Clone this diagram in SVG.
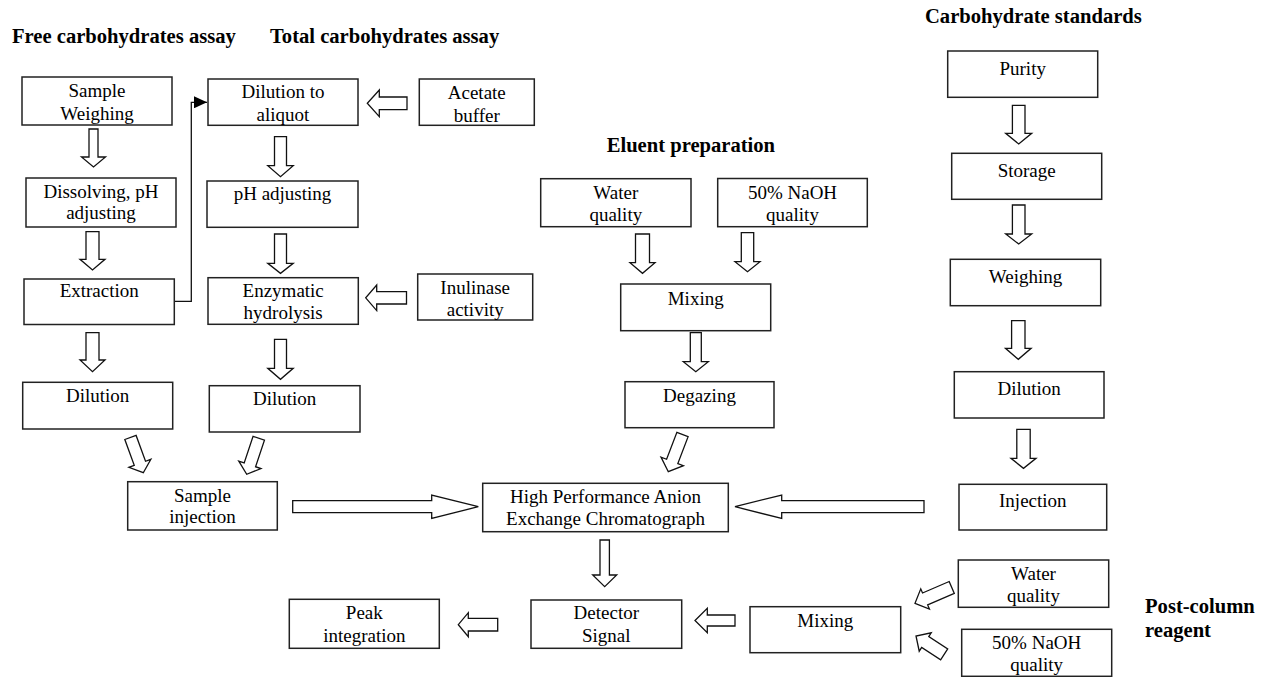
<svg xmlns="http://www.w3.org/2000/svg" width="1265" height="677" viewBox="0 0 1265 677">
<defs>
<style>
.box{fill:#fff;stroke:#222;stroke-width:1.5}
.t{font-family:"Liberation Serif","Times New Roman",serif;font-size:19px;fill:#000;text-anchor:middle}
.h{font-family:"Liberation Serif","Times New Roman",serif;font-size:20.6px;font-weight:bold;fill:#000}
.ar{fill:#fff;stroke:#111;stroke-width:1.3;stroke-linejoin:miter}
.ln{fill:none;stroke:#111;stroke-width:1.3}
</style>
<marker id="tri" markerWidth="14" markerHeight="12" refX="13" refY="6" orient="auto" markerUnits="userSpaceOnUse">
<path d="M0,0 L13,6 L0,12 Z" fill="#000"/>
</marker>
</defs>
<rect width="1265" height="677" fill="#fff"/>

<g id="titles">
<text class="h" x="12" y="42.7">Free carbohydrates assay</text>
<text class="h" x="270" y="43">Total carbohydrates assay</text>
<text class="h" x="606.7" y="151.7">Eluent preparation</text>
<text class="h" x="925" y="23.3">Carbohydrate standards</text>
<text class="h" x="1145" y="613">Post-column</text>
<text class="h" x="1145" y="637">reagent</text>
</g>

<g id="connectors">
<polyline class="ln" points="174.3,301.3 191.3,301.3 191.3,102.3 207,102.3" marker-end="url(#tri)"/>
<path class="ar" d="M89,129 H98 V157 H105.5 L93.5,167 L81.5,157 H89 Z"/>
<path class="ar" d="M86,231.7 H99 V259.3 H105 L92.5,270 L80,259.3 H86 Z"/>
<path class="ar" d="M86,332.7 H99 V360 H105 L92.5,371.7 L80,360 H86 Z"/>
<path class="ar" d="M274.5,136.7 H286.5 V165.7 H293.2 L280.5,176.7 L267.8,165.7 H274.5 Z"/>
<path class="ar" d="M274.5,234 H286.5 V263.3 H293.2 L280.5,273.3 L267.8,263.3 H274.5 Z"/>
<path class="ar" d="M274.5,339.3 H286.5 V368.3 H293.2 L280.5,379.3 L267.8,368.3 H274.5 Z"/>
<path class="ar" d="M635.5,234 H649.5 V262.7 H655 L642.5,273.3 L630,262.7 H635.5 Z"/>
<path class="ar" d="M741.3,232.7 H753.7 V261.7 H760 L747.5,271.7 L735,261.7 H741.3 Z"/>
<path class="ar" d="M690.3,332.7 H701.3 V361.7 H708.3 L695.8,371.7 L683.3,361.7 H690.3 Z"/>
<path class="ar" d="M1012.4,105.3 H1025 V133.3 H1031.7 L1018.7,144 L1005.7,133.3 H1012.4 Z"/>
<path class="ar" d="M1012.4,205 H1025 V234 H1031.7 L1018.7,244 L1005.7,234 H1012.4 Z"/>
<path class="ar" d="M1011.6,320.7 H1025 V348.3 H1031.1 L1018.3,359.3 L1005.5,348.3 H1011.6 Z"/>
<path class="ar" d="M1016.8,429.3 H1030.2 V458.3 H1036 L1023.5,468.3 L1011,458.3 H1016.8 Z"/>
<path class="ar" d="M600,540 H609.4 V575 H616.7 L604.7,586.7 L592.7,575 H600 Z"/>
<path class="ar" d="M407,97 V109.6 H379.3 V116.6 L367.3,103.3 L379.3,90 V97 Z"/>
<path class="ar" d="M406.5,291.6 V304 H376.7 V310.6 L365.7,297.8 L376.7,285 V291.6 Z"/>
<path class="ar" d="M292.7,500.7 H431.7 V495 L478.3,506.7 L431.7,518.4 V512.7 H292.7 Z"/>
<path class="ar" d="M924,500.7 V512.7 H781.7 V518.4 L735,506.7 L781.7,495 V500.7 Z"/>
<path class="ar" d="M735,615 V626 H707.3 V632.7 L695,620.5 L707.3,608.3 V615 Z"/>
<path class="ar" d="M497.7,618.4 V631 H468.3 V636.7 L458.3,624.7 L468.3,612.7 V618.4 Z"/>
<path class="ar" transform="translate(143.3,472.7) rotate(-20)" d="M-6,-37.5 H6 V-10 H11.7 L0,0 L-11.7,-10 H-6 Z"/>
<path class="ar" transform="translate(246.7,474.3) rotate(18.5)" d="M-6,-38 H6 V-10 H11.7 L0,0 L-11.7,-10 H-6 Z"/>
<path class="ar" transform="translate(668.3,471.7) rotate(20.9)" d="M-6,-39.8 H6 V-11 H12 L0,0 L-12,-11 H-6 Z"/>
<path class="ar" transform="translate(915,603.3) rotate(66.7)" d="M-6.5,-40 H6.5 V-11 H11 L0,0 L-11,-11 H-6.5 Z"/>
<path class="ar" transform="translate(916,636) rotate(123)" d="M-6.5,-33.6 H6.5 V-11 H11 L0,0 L-11,-11 H-6.5 Z"/>
</g>

<g id="n_sample_weighing"><rect class="box" x="22" y="77" width="150" height="48"/><text class="t" x="97" y="97">Sample</text><text class="t" x="97" y="120">Weighing</text></g>
<g id="n_dissolving"><rect class="box" x="26" y="178" width="150" height="49"/><text class="t" x="101" y="197.7">Dissolving, pH</text><text class="t" x="101" y="219">adjusting</text></g>
<g id="n_extraction"><rect class="box" x="24" y="279" width="150.3" height="45.5"/><text class="t" x="99.2" y="297.3">Extraction</text></g>
<g id="n_dilution_free"><rect class="box" x="22.7" y="382.3" width="150" height="46.7"/><text class="t" x="97.7" y="402.3">Dilution</text></g>
<g id="n_dilution_aliquot"><rect class="box" x="208" y="79" width="150" height="46.3"/><text class="t" x="283" y="98.3">Dilution to</text><text class="t" x="283" y="120.7">aliquot</text></g>
<g id="n_ph_adjusting"><rect class="box" x="207" y="181" width="151" height="46.3"/><text class="t" x="282.5" y="200">pH adjusting</text></g>
<g id="n_enzymatic"><rect class="box" x="208" y="277.7" width="150.3" height="46.6"/><text class="t" x="283.2" y="297.3">Enzymatic</text><text class="t" x="283.2" y="319">hydrolysis</text></g>
<g id="n_dilution_total"><rect class="box" x="209.3" y="385.7" width="150.7" height="46.3"/><text class="t" x="284.7" y="405.3">Dilution</text></g>
<g id="n_acetate"><rect class="box" x="419.3" y="79" width="115" height="46.3"/><text class="t" x="476.8" y="99">Acetate</text><text class="t" x="476.8" y="121.5">buffer</text></g>
<g id="n_inulinase"><rect class="box" x="417.7" y="274" width="115" height="46"/><text class="t" x="475.2" y="294">Inulinase</text><text class="t" x="475.2" y="316">activity</text></g>
<g id="n_water_eluent"><rect class="box" x="540.7" y="178.7" width="150.3" height="48"/><text class="t" x="615.8" y="199">Water</text><text class="t" x="615.8" y="221">quality</text></g>
<g id="n_naoh_eluent"><rect class="box" x="717.7" y="178.5" width="149.6" height="48.2"/><text class="t" x="792.5" y="199">50% NaOH</text><text class="t" x="792.5" y="221">quality</text></g>
<g id="n_mixing_eluent"><rect class="box" x="620.7" y="284" width="150" height="46.7"/><text class="t" x="695.7" y="305">Mixing</text></g>
<g id="n_degazing"><rect class="box" x="625" y="381.7" width="149" height="46"/><text class="t" x="699.5" y="401.7">Degazing</text></g>
<g id="n_purity"><rect class="box" x="947.7" y="51" width="150" height="46.3"/><text class="t" x="1022.7" y="75">Purity</text></g>
<g id="n_storage"><rect class="box" x="951.7" y="153.3" width="150" height="46"/><text class="t" x="1026.7" y="176.7">Storage</text></g>
<g id="n_weighing"><rect class="box" x="950.3" y="259.3" width="150.4" height="46.4"/><text class="t" x="1025.5" y="282.7">Weighing</text></g>
<g id="n_dilution_std"><rect class="box" x="954.3" y="371.7" width="149.7" height="46.3"/><text class="t" x="1029.2" y="395">Dilution</text></g>
<g id="n_injection"><rect class="box" x="959" y="484.3" width="147.7" height="45.7"/><text class="t" x="1032.8" y="507.3">Injection</text></g>
<g id="n_sample_injection"><rect class="box" x="127.7" y="481.7" width="149.6" height="48.3"/><text class="t" x="202.5" y="501.7">Sample</text><text class="t" x="202.5" y="523.3">injection</text></g>
<g id="n_hpaec"><rect class="box" x="482.7" y="483.3" width="245.6" height="48.4"/><text class="t" x="605.5" y="503.3">High Performance Anion</text><text class="t" x="605.5" y="525">Exchange Chromatograph</text></g>
<g id="n_detector"><rect class="box" x="531" y="600" width="150.7" height="48.3"/><text class="t" x="606.3" y="619.3">Detector</text><text class="t" x="606.3" y="641.7">Signal</text></g>
<g id="n_peak"><rect class="box" x="289.3" y="599.3" width="150" height="49"/><text class="t" x="364.3" y="619.3">Peak</text><text class="t" x="364.3" y="641.7">integration</text></g>
<g id="n_mixing_post"><rect class="box" x="750" y="606.7" width="150.7" height="46"/><text class="t" x="825.3" y="626.7">Mixing</text></g>
<g id="n_water_post"><rect class="box" x="958.3" y="560" width="150.4" height="47.3"/><text class="t" x="1033.5" y="580">Water</text><text class="t" x="1033.5" y="601.7">quality</text></g>
<g id="n_naoh_post"><rect class="box" x="961.7" y="629.3" width="150" height="47"/><text class="t" x="1036.7" y="649.3">50% NaOH</text><text class="t" x="1036.7" y="670.7">quality</text></g>
</svg>
